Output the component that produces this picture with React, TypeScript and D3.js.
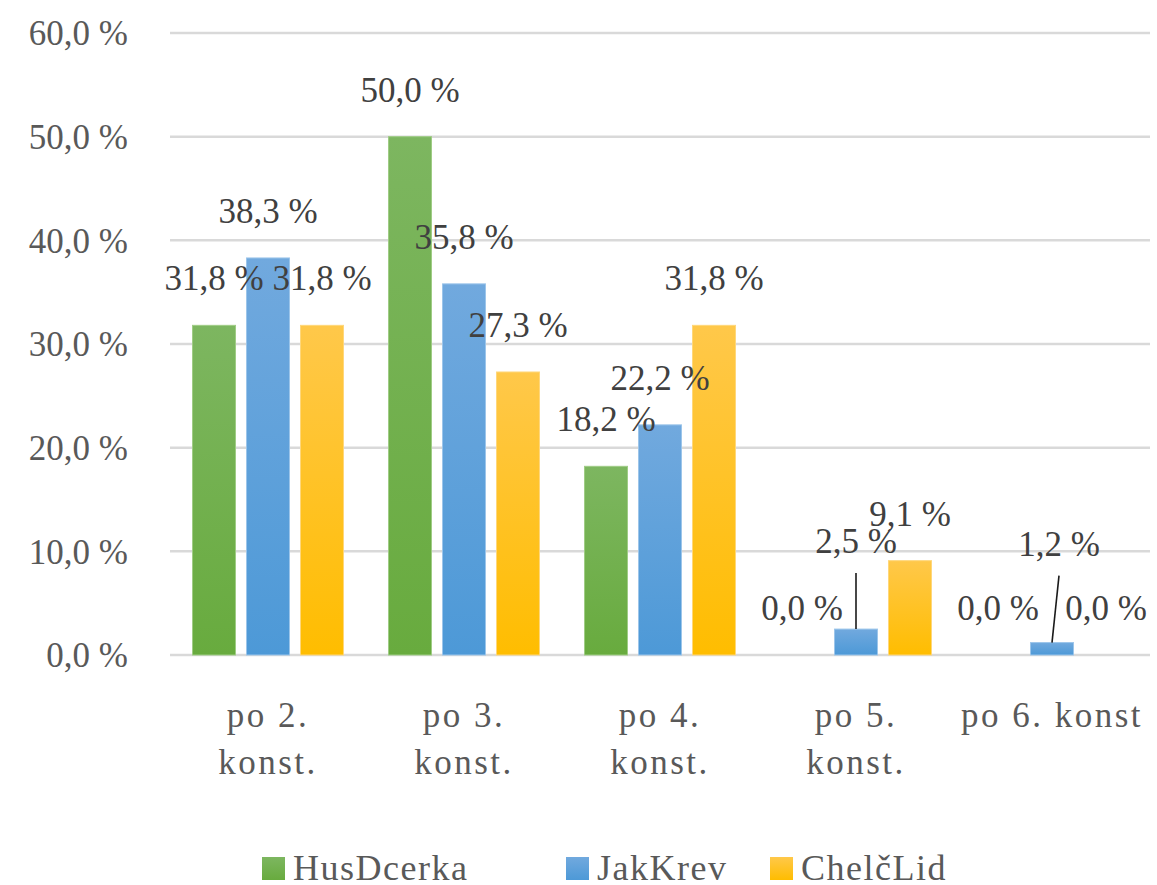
import React from "react";
import * as d3 from "d3";

const categories = ["po 2. konst.", "po 3. konst.", "po 4. konst.", "po 5. konst.", "po 6. konst"];
const categoryLines = [["po 2.", "konst."], ["po 3.", "konst."], ["po 4.", "konst."], ["po 5.", "konst."], ["po 6. konst"]];
const seriesNames = ["HusDcerka", "JakKrev", "ChelčLid"];
const husDcerka = [31.8, 50.0, 18.2, 0.0, 0.0];
const jakKrev = [38.3, 35.8, 22.2, 2.5, 1.2];
const chelcLid = [31.8, 27.3, 31.8, 9.1, 0.0];
const yTicks = [0, 10, 20, 30, 40, 50, 60];

const seriesValues = [husDcerka, jakKrev, chelcLid];
const colorsTop = ["#7db660", "#71a9de", "#ffc84a"];
const colorsBottom = ["#68ab3e", "#4d99d7", "#ffbd00"];
const colorsStroke = ["#9fcc85", "#9cc5ea", "#ffd77a"];
// labels moved up with a leader line (series index, category index, lift, dx)
const movedLabels = [
  { s: 1, c: 3, lift: 41, dx: 0 },
  { s: 1, c: 4, lift: 52, dx: 7 },
];

const fmt = (v: number) => v.toFixed(1).replace(".", ",") + " %";

export default function App() {
  const W = 1157, H = 885;
  const x0 = d3.scaleBand<string>().domain(categories).range([170, 1150]).paddingInner(0).paddingOuter(0);
  const x1 = d3.scaleBand<string>().domain(seriesNames).range([0, x0.bandwidth()]).paddingInner(0.204).paddingOuter(0.417);
  const y = d3.scaleLinear().domain([0, 60]).range([655, 33]);
  const font = "'Liberation Serif', 'Times New Roman', serif";
  const legendX = [262, 566, 770];

  return (
    <svg width={W} height={H} style={{ position: "absolute", left: 0, top: 0, background: "#fff" }}>
      <defs>
        {seriesNames.map((s, i) => (
          <linearGradient key={s} id={"g" + i} x1="0" y1="0" x2="0" y2="1">
            <stop offset="0%" stopColor={colorsTop[i]} />
            <stop offset="100%" stopColor={colorsBottom[i]} />
          </linearGradient>
        ))}
      </defs>
      {/* gridlines */}
      {yTicks.map((t) => (
        <line key={t} x1={170} x2={1150} y1={y(t)} y2={y(t)} stroke="#d9d9d9" strokeWidth={2.5} />
      ))}
      {/* y labels */}
      {yTicks.map((t) => (
        <text key={"yl" + t} x={128} y={y(t)} dy="0.35em" textAnchor="end" fontFamily={font} fontSize={35} fill="#595959">
          {fmt(t)}
        </text>
      ))}
      {/* bars */}
      {categories.map((c, ci) => (
        <g key={c} transform={`translate(${x0(c)},0)`}>
          {seriesNames.map((s, si) => {
            const v = seriesValues[si][ci];
            if (v <= 0) return null;
            return (
              <rect key={s} x={x1(s)} y={y(v)} width={x1.bandwidth()} height={y(0) - y(v)}
                fill={`url(#g${si})`} stroke={colorsStroke[si]} strokeWidth={1} />
            );
          })}
        </g>
      ))}
      {/* data labels */}
      {categories.map((c, ci) =>
        seriesNames.map((s, si) => {
          const v = seriesValues[si][ci];
          const cx = (x0(c) as number) + (x1(s) as number) + x1.bandwidth() / 2;
          const moved = movedLabels.find((m) => m.s === si && m.c === ci);
          const base = y(v) - 35 - (moved ? moved.lift : 0);
          const lx = cx + (moved ? moved.dx : 0);
          return (
            <g key={c + s}>
              {moved && (
                <line x1={lx} y1={base + 20} x2={cx} y2={y(v)} stroke="#1a1a1a" strokeWidth={1.6} />
              )}
              <text x={lx} y={base} textAnchor="middle" fontFamily={font} fontSize={35} fill="#404040">
                {fmt(v)}
              </text>
            </g>
          );
        })
      )}
      {/* x labels */}
      {categories.map((c, ci) => (
        <text key={"xl" + c} x={(x0(c) as number) + x0.bandwidth() / 2} y={727} textAnchor="middle"
          fontFamily={font} fontSize={35} fill="#595959" letterSpacing={2.5}>
          {categoryLines[ci].map((ln, li) => (
            <tspan key={li} x={(x0(c) as number) + x0.bandwidth() / 2} dy={li === 0 ? 0 : 47}>{ln}</tspan>
          ))}
        </text>
      ))}
      {/* legend */}
      {seriesNames.map((s, i) => (
        <g key={"lg" + s} transform={`translate(${legendX[i]},0)`}>
          <rect x={0} y={857} width={23} height={23} fill={`url(#g${i})`} />
          <text x={31} y={880} fontFamily={font} fontSize={36} fill="#595959" letterSpacing={1.5}>{s}</text>
        </g>
      ))}
    </svg>
  );
}
